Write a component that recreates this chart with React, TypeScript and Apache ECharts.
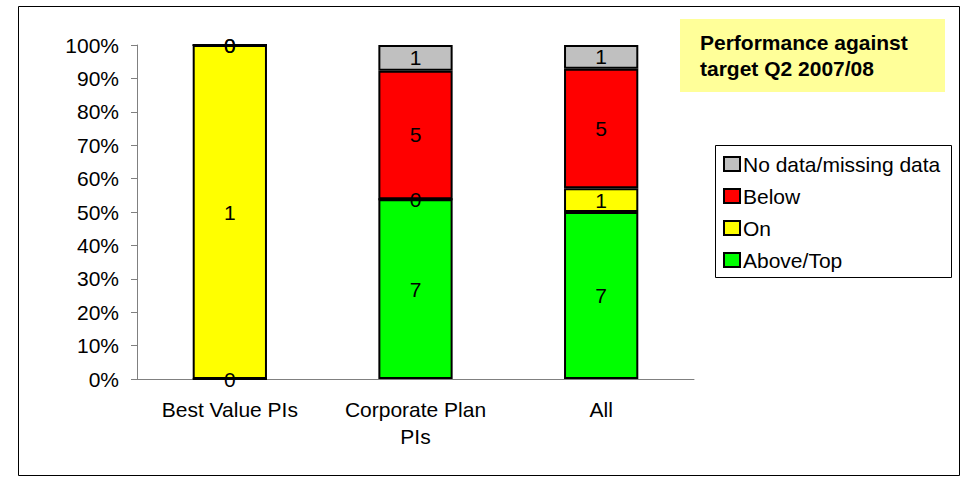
import React, { useEffect, useRef } from "react";
import * as echarts from "echarts";

// Indicator counts per group
const categories = ["Best Value PIs", "Corporate Plan\nPIs", "All"];
const aboveTop = [0, 7, 7];
const onTarget = [1, 0, 1];
const below = [0, 5, 5];
const noData = [0, 1, 1];

const seriesNames = ["Above/Top", "On", "Below", "No data/missing data"];
const seriesColors = ["#00FF00", "#FFFF00", "#FF0000", "#C0C0C0"];
const yTicks = [0, 10, 20, 30, 40, 50, 60, 70, 80, 90, 100];

const FONT = '"Liberation Sans", Arial, sans-serif';

export default function App() {
  const ref = useRef<HTMLDivElement>(null);

  useEffect(() => {
    if (!ref.current) return;
    const chart = echarts.init(ref.current, null, { renderer: "svg" });
    const counts = [aboveTop, onTarget, below, noData];
    const totals = categories.map((_, i) =>
      counts.reduce((s, arr) => s + arr[i], 0)
    );

    const series = counts.map((arr, si) => ({
      name: seriesNames[si],
      type: "bar",
      stack: "total",
      barCategoryGap: "60%",
      data: arr.map((v, i) => (totals[i] ? (v / totals[i]) * 100 : 0)),
      itemStyle: {
        color: seriesColors[si],
        borderColor: "#000000",
        borderWidth: 2,
      },
      label: {
        show: true,
        position: "inside",
        color: "#000000",
        fontFamily: FONT,
        fontSize: 21,
        formatter: (p: any) => String(counts[p.seriesIndex][p.dataIndex]),
      },
    }));

    chart.setOption({
      animation: false,
      backgroundColor: "#ffffff",
      grid: { left: 137, top: 45, right: 268, bottom: 98 },
      xAxis: {
        type: "category",
        data: categories,
        axisLine: { lineStyle: { color: "#808080", width: 1 } },
        axisTick: { alignWithLabel: false, length: 6, lineStyle: { color: "#808080" } },
        axisLabel: {
          color: "#000000",
          fontFamily: FONT,
          fontSize: 21,
          lineHeight: 27,
          margin: 17,
          interval: 0,
        },
      },
      yAxis: {
        type: "value",
        min: 0,
        max: 100,
        interval: 10,
        splitLine: { show: false },
        axisLine: { show: true, lineStyle: { color: "#808080", width: 1 } },
        axisTick: { show: true, length: 6, lineStyle: { color: "#808080" } },
        axisLabel: {
          color: "#000000",
          fontFamily: FONT,
          fontSize: 21,
          margin: 18,
          formatter: (v: number) => (yTicks.includes(v) ? `${v}%` : ""),
        },
      },
      legend: {
        data: [...seriesNames].reverse(),
        orient: "vertical",
        left: 715,
        top: 145,
        padding: [8, 10, 5, 8],
        itemWidth: 16,
        itemHeight: 14,
        itemGap: 10,
        selectedMode: false,
        icon: "rect",
        textStyle: {
          color: "#000000",
          fontFamily: FONT,
          fontSize: 21,
          lineHeight: 22,
          padding: [0, 0, 0, -2],
        },
      },
      graphic: [
        {
          type: "rect",
          shape: { x: 18.5, y: 6.5, width: 941, height: 469 },
          style: { fill: "none", stroke: "#000000", lineWidth: 1 },
          z: 0,
        },
        {
          type: "rect",
          shape: { x: 715.5, y: 145.5, width: 236, height: 132 },
          style: { fill: "none", stroke: "#000000", lineWidth: 1 },
          z: 0,
        },
        {
          type: "rect",
          shape: { x: 680, y: 19, width: 265, height: 73 },
          style: { fill: "#FFFF99" },
          z: 0,
        },
        {
          type: "text",
          x: 700,
          y: 29,
          style: {
            text: "Performance against\ntarget Q2 2007/08",
            fill: "#000000",
            font: `bold 21px ${FONT}`,
            lineHeight: 26,
          },
          z: 1,
        },
      ],
      series,
    });

    return () => chart.dispose();
  }, []);

  return (
    <div
      ref={ref}
      style={{ position: "fixed", left: 0, top: 0, width: 962, height: 477 }}
    />
  );
}
